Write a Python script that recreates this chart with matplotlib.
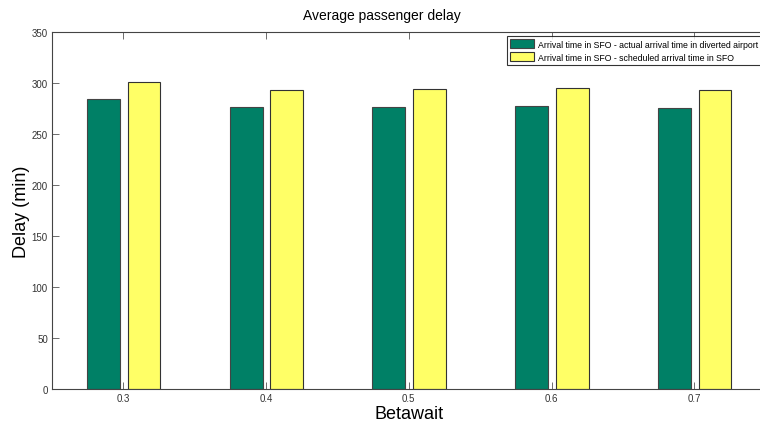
import numpy as np
import matplotlib.pyplot as plt

plt.rcParams['font.family'] = ['Liberation Sans', 'DejaVu Sans']

betawait = [0.3, 0.4, 0.5, 0.6, 0.7]
tick_labels = ['0.3', '0.4', '0.5', '0.6', '0.7']
delay_actual = [284, 276, 276, 277.5, 275.5]
delay_sched = [301, 293, 294, 295, 293]

fig = plt.figure(figsize=(7.6, 4.27), dpi=100)
ax = fig.add_axes([0.0684, 0.0867, 0.939, 0.836])

x = np.array(betawait)
w = 0.023
ax.bar(x - 0.014, delay_actual, w, color='#008066', edgecolor='#444444', lw=0.8,
       label='Arrival time in SFO - actual arrival time in diverted airport')
ax.bar(x + 0.0145, delay_sched, w, color='#ffff66', edgecolor='#333333', lw=0.8,
       label='Arrival time in SFO - scheduled arrival time in SFO')

ax.set_xlim(0.25, 0.75)
ax.set_ylim(0, 350)
ax.set_xticks(betawait)
ax.set_xticklabels(tick_labels)
ax.set_yticks(np.arange(0, 351, 50))
ax.tick_params(direction='in', length=5, labelsize=7, labelcolor='#333333',
               top=True, right=False, width=0.6, color='#555555', pad=3)
ax.spines['right'].set_visible(False)
for s in ax.spines.values():
    s.set_color('#444444')
    s.set_linewidth(0.8)

fig.text(0.503, 0.962, 'Average passenger delay', fontsize=10, ha='center', va='center')
ax.set_xlabel('Betawait', fontsize=13, labelpad=1)
ax.set_ylabel('Delay (min)', fontsize=13, labelpad=1)

leg = ax.legend(loc='upper right', fontsize=6.3, frameon=True, fancybox=False,
                handlelength=2.8, handleheight=1.05, borderaxespad=0.3,
                borderpad=0.35, labelspacing=0.45, handletextpad=0.4,
                bbox_to_anchor=(0.997, 0.995))
leg.get_frame().set_edgecolor('black')
leg.get_frame().set_linewidth(0.8)

fig.savefig('out.png', dpi=100)
